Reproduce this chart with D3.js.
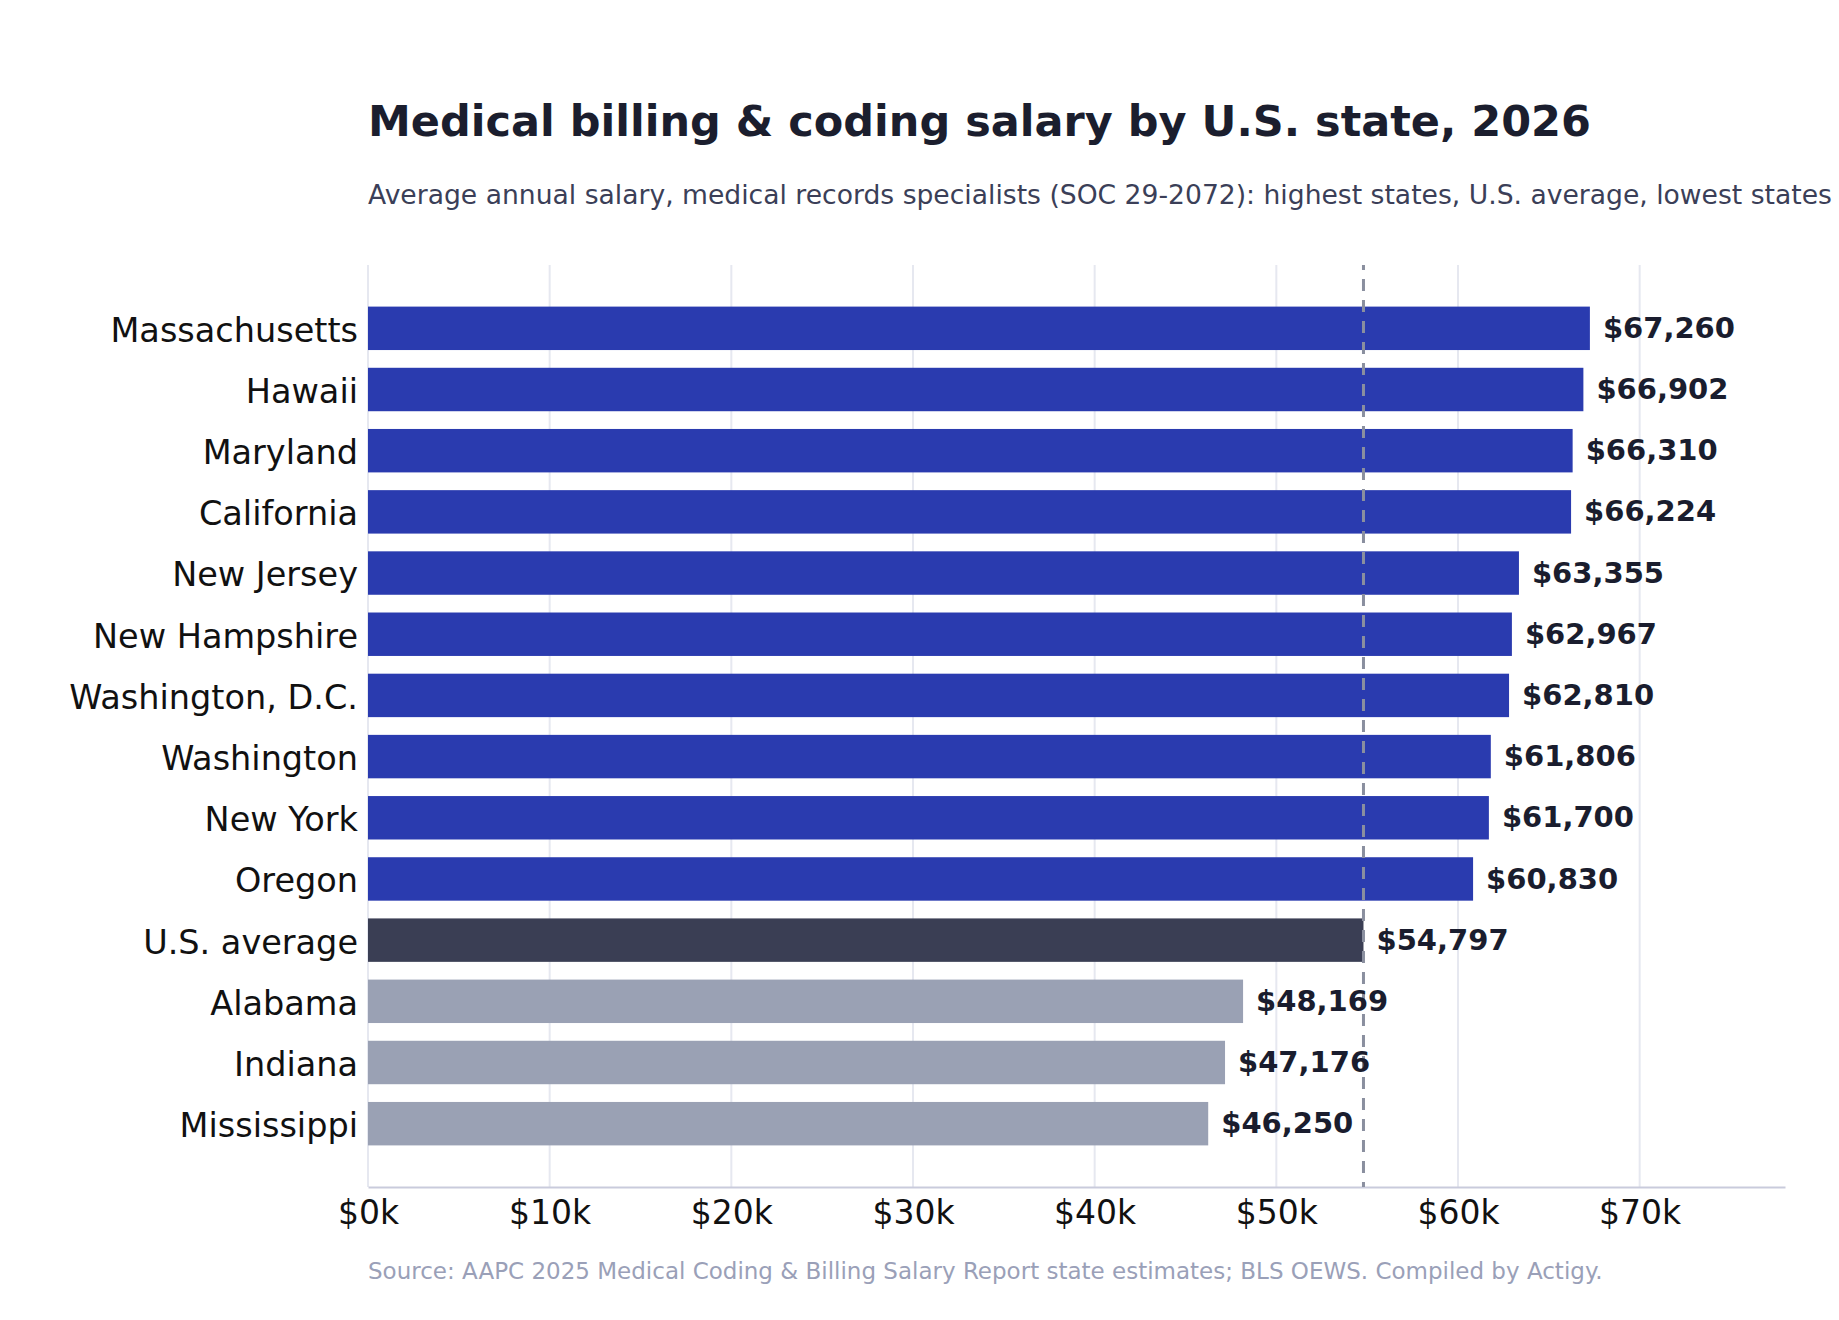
<!DOCTYPE html>
<html>
<head>
<meta charset="utf-8">
<script src="https://cdn.jsdelivr.net/npm/d3@7"></script>
<style>
  body { margin: 0; background: #fff; }
  svg { font-family: "DejaVu Sans", sans-serif; }
</style>
</head>
<body>
<div id="chart"></div>
<script>
const states = ["Massachusetts", "Hawaii", "Maryland", "California", "New Jersey", "New Hampshire",
  "Washington, D.C.", "Washington", "New York", "Oregon", "U.S. average", "Alabama", "Indiana", "Mississippi"];
const salaries = [67260, 66902, 66310, 66224, 63355, 62967, 62810, 61806, 61700, 60830, 54797, 48169, 47176, 46250];
const groups = ["high", "high", "high", "high", "high", "high", "high", "high", "high", "high", "avg", "low", "low", "low"];
const xTicks = [0, 10000, 20000, 30000, 40000, 50000, 60000, 70000];
const usAverage = 54797;

const data = states.map((s, i) => ({ state: s, value: salaries[i], group: groups[i] }));

const width = 1839, height = 1320;
const margin = { top: 265, right: 54, bottom: 133, left: 368 };

const svg = d3.select("#chart")
  .append("svg")
  .attr("width", width)
  .attr("height", height);

const x = d3.scaleLinear()
  .domain([0, 78000])
  .range([margin.left, width - margin.right]);

const y = d3.scaleBand()
  .domain(states)
  .range([margin.top, height - margin.bottom])
  .paddingInner(0.29)
  .paddingOuter(0.68);

const color = d3.scaleOrdinal()
  .domain(["high", "avg", "low"])
  .range(["#2a3baf", "#3a3e54", "#9aa1b4"]);

// gridlines
svg.append("g")
  .selectAll("line")
  .data(xTicks)
  .enter()
  .append("line")
  .attr("x1", d => x(d))
  .attr("x2", d => x(d))
  .attr("y1", margin.top)
  .attr("y2", height - margin.bottom)
  .attr("stroke", "#e6e8f0")
  .attr("stroke-width", 2);

// bottom axis
const xAxis = svg.append("g")
  .attr("transform", `translate(0, ${height - margin.bottom})`)
  .call(d3.axisBottom(x).tickValues(xTicks).tickSize(0).tickPadding(14)
    .tickFormat(d => "$" + d / 1000 + "k"));
xAxis.select(".domain").attr("stroke", "#c9cbdc").attr("stroke-width", 2);
xAxis.selectAll("text")
  .attr("font-size", 33)
  .attr("font-family", "DejaVu Sans")
  .attr("fill", "#111");

// left axis labels
const yAxis = svg.append("g")
  .attr("transform", `translate(${margin.left}, 0)`)
  .call(d3.axisLeft(y).tickSize(0).tickPadding(10));
yAxis.select(".domain").remove();
yAxis.selectAll("text")
  .attr("font-size", 33.5)
  .attr("font-family", "DejaVu Sans")
  .attr("dy", "0.4em")
  .attr("fill", "#111");

// bars
svg.selectAll("rect.bar")
  .data(data)
  .enter()
  .append("rect")
  .attr("class", "bar")
  .attr("x", x(0))
  .attr("y", d => y(d.state))
  .attr("width", d => x(d.value) - x(0))
  .attr("height", y.bandwidth())
  .attr("fill", d => color(d.group));

// average line
svg.append("line")
  .attr("x1", x(usAverage))
  .attr("x2", x(usAverage))
  .attr("y1", margin.top)
  .attr("y2", height - margin.bottom)
  .attr("stroke", "#8a8f9f")
  .attr("stroke-width", 3)
  .attr("stroke-dasharray", "12,9")
  .attr("stroke-dashoffset", 7);

// value labels
svg.selectAll("text.val")
  .data(data)
  .enter()
  .append("text")
  .attr("class", "val")
  .attr("x", d => x(d.value) + 13)
  .attr("y", d => y(d.state) + y.bandwidth() / 2)
  .attr("dy", "0.33em")
  .attr("font-size", 29)
  .attr("font-weight", "bold")
  .attr("fill", "#1a1d2e")
  .text(d => "$" + d3.format(",")(d.value));

// titles
svg.append("text")
  .attr("x", margin.left)
  .attr("y", 136)
  .attr("font-size", 43)
  .attr("font-weight", "bold")
  .attr("fill", "#1b1e2e")
  .text("Medical billing & coding salary by U.S. state, 2026");

svg.append("text")
  .attr("x", margin.left)
  .attr("y", 204)
  .attr("font-size", 26.6)
  .attr("fill", "#3b3f58")
  .text("Average annual salary, medical records specialists (SOC 29-2072): highest states, U.S. average, lowest states");

svg.append("text")
  .attr("x", margin.left)
  .attr("y", 1279)
  .attr("font-size", 23)
  .attr("fill", "#9aa0b8")
  .text("Source: AAPC 2025 Medical Coding & Billing Salary Report state estimates; BLS OEWS. Compiled by Actigy.");
</script>
</body>
</html>
